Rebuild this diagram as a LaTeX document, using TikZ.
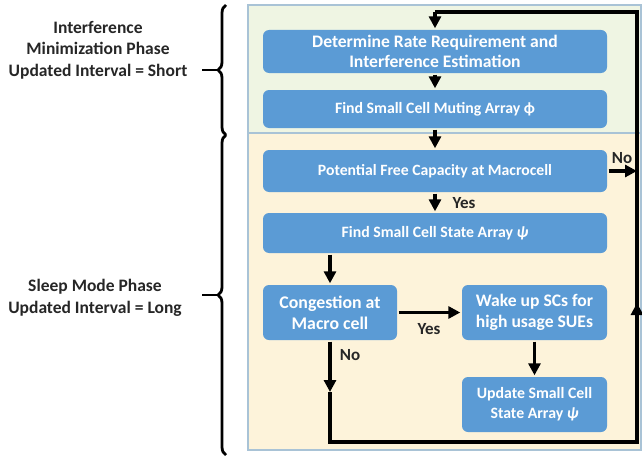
\documentclass[tikz,border=0pt]{standalone}
\usepackage{fontspec}
\setmainfont{Carlito}
\usetikzlibrary{arrows.meta,positioning,calc,decorations.pathreplacing}
\definecolor{boxblue}{HTML}{5B9BD5}
\definecolor{phasegreen}{HTML}{EFF5E3}
\definecolor{phaseyellow}{HTML}{FDF3DA}
\definecolor{panelline}{HTML}{A9C3D6}

\begin{document}
\begin{tikzpicture}[x=1pt, y=-1pt, line width=3.4pt,
    stepbox/.style={rectangle, rounded corners=6pt, fill=boxblue, text=white,
      font=\bfseries, align=center, inner sep=0pt},
    flow/.style={-{Triangle[length=12pt, width=12pt]}},
    phaselabel/.style={font=\fontsize{17.5}{21.5}\selectfont\bfseries, align=center, text=black!85},
    answer/.style={font=\fontsize{17}{18}\selectfont\bfseries, text=black!85, inner sep=1pt}]
  \useasboundingbox (0,0) rectangle (642,460);
  % --- the two phase panels ---
  \fill[phasegreen] (248,5) rectangle (641,133);
  \fill[phaseyellow] (248,133) rectangle (641,450);
  \draw[panelline, line width=1.6pt] (248,5) rectangle (641,133);
  \draw[panelline, line width=1.6pt] (248,133) rectangle (641,450);
  % --- steps ---
  \node[stepbox, minimum width=344pt, minimum height=43pt,
    font=\fontsize{17.6}{20}\selectfont\bfseries] (rate) at (435,51.5)
    {Determine Rate Requirement and\\Interference Estimation};
  \node[stepbox, minimum width=344pt, minimum height=38pt,
    font=\fontsize{15.8}{18}\selectfont\bfseries] (muting) at (435,109)
    {Find Small Cell Muting Array ϕ};
  \node[stepbox, minimum width=344pt, minimum height=42pt,
    font=\fontsize{15.7}{18}\selectfont\bfseries] (capacity) at (435,171)
    {Potential Free Capacity at Macrocell};
  \node[stepbox, minimum width=344pt, minimum height=40pt,
    font=\fontsize{15.8}{18}\selectfont\bfseries] (state) at (435,233)
    {Find Small Cell State Array \textit{ψ}};
  \node[stepbox, minimum width=134pt, minimum height=55pt,
    font=\fontsize{17.8}{21}\selectfont\bfseries] (congest) at (330,312.5)
    {Congestion at\\Macro cell};
  \node[stepbox, minimum width=145pt, minimum height=55pt,
    font=\fontsize{17.6}{21}\selectfont\bfseries] (wake) at (534.5,312.5)
    {Wake up SCs for\\high usage SUEs};
  \node[stepbox, minimum width=145pt, minimum height=55pt,
    font=\fontsize{15.8}{20}\selectfont\bfseries] (update) at (534.5,404.5)
    {Update Small Cell\\State Array \textit{ψ}};
  % --- loop corners ---
  \coordinate (loopbl) at (330,442);
  \coordinate (loopbr) at (637,442);
  \coordinate (loopmid) at (637,303);
  \coordinate (looptr) at (637,12);
  \coordinate (looptop) at (435,12);
  \coordinate (nomid) at (330,392);
  \coordinate (noend) at (637,171);
  % --- connectors ---
  \draw[flow] (rate.south) -- (muting.north);
  \draw[flow] (muting.south) -- (capacity.north);
  \draw[flow] (capacity.south) -- (state.north);
  \draw[flow] (capacity.east) -- (noend);
  \draw[flow] (state.south -| congest.north) -- (congest.north);
  \draw[flow] (congest.east) -- (wake.west);
  \draw[flow] (wake.south) -- (update.north);
  \draw[flow] (congest.south) -- (nomid);
  \draw[line join=miter] (nomid) -- (loopbl) -- (loopbr) -- (loopmid);
  \draw[flow] (loopbr) -- (loopmid);
  \draw[line join=miter] (loopmid) -- (looptr) -- (looptop);
  \draw[flow] (looptop) -- (rate.north);
  % answers
  \node[answer] (capno) at (622,158) {No};
  \node[answer] (capyes) at (464,203) {Yes};
  \node[answer] (conyes) at (429,329) {Yes};
  \node[answer] (conno) at (350,355) {No};
  % --- phase braces ---
  \draw[line width=2.8pt, decoration={brace, amplitude=8pt}, decorate]
    (226,135) -- (226,5);
  \draw[line width=2.8pt, decoration={brace, amplitude=8pt}, decorate]
    (226,455) -- (226,135);
  \node[phaselabel] (shortphase) at (98,50)
    {Interference\\Minimization Phase\\Updated Interval = Short};
  \node[phaselabel] (longphase) at (95,298)
    {Sleep Mode Phase\\Updated Interval = Long};
  \coordinate (shorttip) at (218,70);
  \coordinate (longtip) at (218,295);
  \draw[line width=2.8pt] (shorttip) -- ++(-16,0);
  \draw[line width=2.8pt] (longtip) -- ++(-16,0);
\end{tikzpicture}
\end{document}
